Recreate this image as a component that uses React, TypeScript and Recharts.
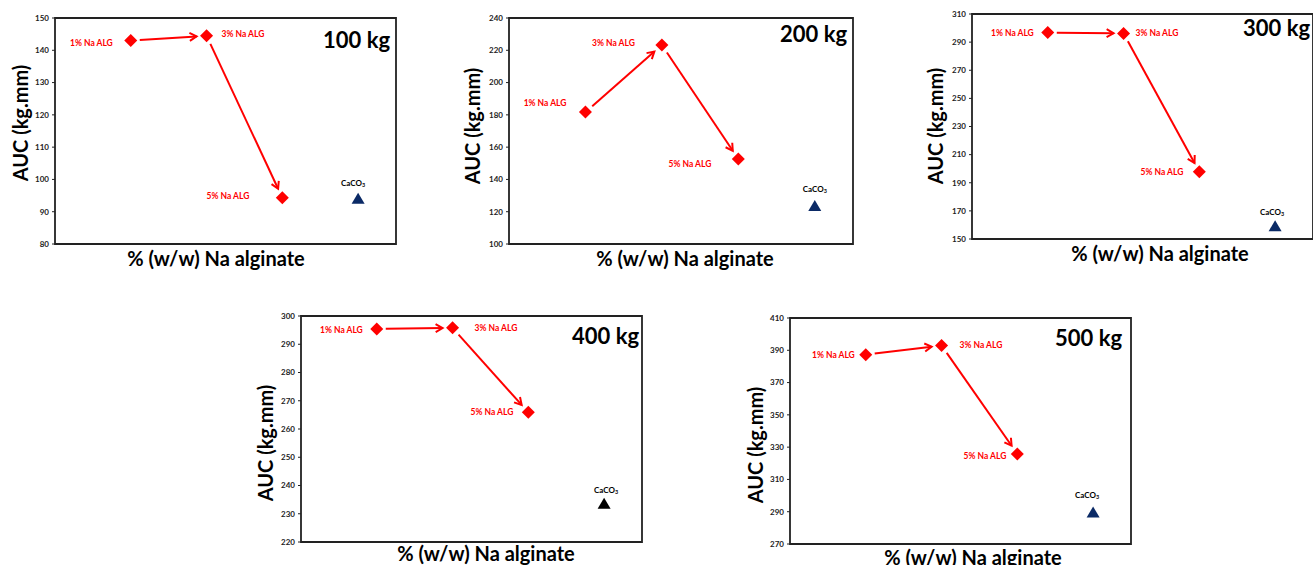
import React from 'react'
import { ScatterChart, Scatter, XAxis, YAxis, ReferenceLine, ReferenceArea } from 'recharts'

// data
const categories = ['1% Na ALG', '3% Na ALG', '5% Na ALG']
const loads = ['100 kg', '200 kg', '300 kg', '400 kg', '500 kg']
const auc100 = [143, 144.5, 94.3]
const auc200 = [181.7, 223.3, 152.6]
const auc300 = [296.8, 296.2, 197.8]
const auc400 = [295.4, 295.8, 265.9]
const auc500 = [387.3, 393, 325.8]
const caco3 = [94, 123.5, 159, 233.5, 289.5]
const yTicks100 = [80, 90, 100, 110, 120, 130, 140, 150]
const yTicks200 = [100, 120, 140, 160, 180, 200, 220, 240]
const yTicks300 = [150, 170, 190, 210, 230, 250, 270, 290, 310]
const yTicks400 = [220, 230, 240, 250, 260, 270, 280, 290, 300]
const yTicks500 = [270, 290, 310, 330, 350, 370, 390, 410]

const series = [auc100, auc200, auc300, auc400, auc500]
const tickSets = [yTicks100, yTicks200, yTicks300, yTicks400, yTicks500]

const RED = '#ff0000'
const FONT = 'Lato, "Open Sans", sans-serif'

// layout of each panel: plot box [left, top, right, bottom], title/axis-title anchors, label offsets
const layout = [
  { box: [55, 18, 396, 244], title: [323, 40], yTitle: [20, 123], xTitle: [216, 258], tri: '#0b2a66',
    lab: [[-18, 2, 'end'], [15, -2, 'start'], [-33, -2, 'end']], caLab: [-5, -16] },
  { box: [509, 18, 853, 244], title: [780, 34], yTitle: [472, 126], xTitle: [685, 258], tri: '#0b2a66',
    lab: [[-19, -9, 'end'], [-27, -2, 'end'], [-27, 5, 'end']], caLab: [0, -17] },
  { box: [972, 14, 1313, 239], title: [1243, 28], yTitle: [935, 126], xTitle: [1160, 253], tri: '#0b2a66',
    lab: [[-14, 0, 'end'], [12, 0, 'start'], [-16, 0, 'end']], caLab: [-3, -14] },
  { box: [301, 316, 642, 542], title: [572, 336], yTitle: [265, 443], xTitle: [486, 553], tri: '#000000',
    lab: [[-14, 1, 'end'], [22, 0, 'start'], [-15, 0, 'end']], caLab: [2, -14] },
  { box: [790, 318, 1131, 544], title: [1055, 338], yTitle: [755, 445], xTitle: [973, 557], tri: '#0b2a66',
    lab: [[-11, 0, 'end'], [18, 0, 'start'], [-11, 2, 'end']], caLab: [-6, -18] },
]

const Arrow = (p: any) => {
  const { x1, y1, x2, y2 } = p
  const dx = x2 - x1, dy = y2 - y1
  const len = Math.sqrt(dx * dx + dy * dy)
  const ux = dx / len, uy = dy / len
  const sx = x1 + ux * 9, sy = y1 + uy * 9
  const ex = x2 - ux * 10, ey = y2 - uy * 10
  const h = 8, a = Math.PI / 6
  const ang = Math.atan2(uy, ux)
  const ax1 = ex - h * Math.cos(ang - a), ay1 = ey - h * Math.sin(ang - a)
  const ax2 = ex - h * Math.cos(ang + a), ay2 = ey - h * Math.sin(ang + a)
  return (
    <g>
      <line x1={sx} y1={sy} x2={ex} y2={ey} stroke={RED} strokeWidth={2} />
      <polyline points={`${ax1},${ay1} ${ex},${ey} ${ax2},${ay2}`} fill="none" stroke={RED} strokeWidth={2} />
    </g>
  )
}

function Panel({ idx }: { idx: number }) {
  const L = layout[idx]
  const [bl, bt, br, bb] = L.box
  const vals = series[idx]
  const ticks = tickSets[idx]
  const yMin = ticks[0], yMax = ticks[ticks.length - 1]
  const alg = vals.map((v, i) => ({ x: i + 1, y: v, name: categories[i] }))
  const ca = [{ x: 4, y: caco3[idx], name: 'CaCO3' }]
  const axisW = 50
  const padT = 10, padR = 10, padB = 10

  const diamond = (p: any) => {
    const { cx, cy, index } = p
    const [ldx, ldy, anchor] = L.lab[index] as [number, number, any]
    const r = 6.5
    return (
      <g>
        <path d={`M${cx},${cy - r} L${cx + r},${cy} L${cx},${cy + r} L${cx - r},${cy} Z`} fill={RED} />
        <text x={cx + ldx} y={cy + ldy} textAnchor={anchor} dominantBaseline="central"
          fill={RED} fontSize={8.5} fontWeight="bold" fontFamily={FONT}>{alg[index].name}</text>
      </g>
    )
  }
  const triangle = (p: any) => {
    const { cx, cy } = p
    return (
      <g>
        <path d={`M${cx},${cy - 6} L${cx + 6.5},${cy + 5} L${cx - 6.5},${cy + 5} Z`} fill={L.tri} />
        <text x={cx + L.caLab[0]} y={cy + L.caLab[1]} textAnchor="middle" dominantBaseline="central"
          fill="#000" fontSize={8} fontWeight="bold" fontFamily={FONT}>
          CaCO<tspan fontSize={5.5} dy={2}>3</tspan>
        </text>
      </g>
    )
  }

  return (
    <>
      <div style={{ position: 'absolute', left: bl - axisW, top: bt - padT }}>
        <ScatterChart width={br - bl + axisW + padR} height={bb - bt + padT + padB}
          margin={{ top: padT, right: padR, bottom: padB, left: 0 }}>
          <XAxis type="number" dataKey="x" domain={[0, 4.5]} hide />
          <YAxis type="number" dataKey="y" domain={[yMin, yMax]} ticks={ticks} interval={0} width={axisW}
            axisLine={false} tickSize={3} tickMargin={3} tickLine={{ stroke: '#222' }}
            tick={{ fill: '#222', fontSize: 8, fontWeight: 'bold', fontFamily: FONT }} />
          <ReferenceArea x1={0} x2={4.5} y1={yMin} y2={yMax} fill="none" fillOpacity={0}
            stroke="#222" strokeWidth={1.8} ifOverflow="visible" />
          <ReferenceLine segment={[{ x: alg[0].x, y: alg[0].y }, { x: alg[1].x, y: alg[1].y }]} shape={Arrow} ifOverflow="visible" />
          <ReferenceLine segment={[{ x: alg[1].x, y: alg[1].y }, { x: alg[2].x, y: alg[2].y }]} shape={Arrow} ifOverflow="visible" />
          <Scatter data={alg} shape={diamond} isAnimationActive={false} />
          <Scatter data={ca} shape={triangle} isAnimationActive={false} />
        </ScatterChart>
      </div>
      <div style={{ position: 'absolute', left: L.title[0], top: L.title[1], transform: 'translate(0, -50%)',
        fontFamily: FONT, fontWeight: 'bold', fontSize: 22, whiteSpace: 'nowrap', lineHeight: 1, color: '#000' }}>
        {loads[idx]}
      </div>
      <div style={{ position: 'absolute', left: L.yTitle[0], top: L.yTitle[1], transform: 'translate(-50%, -50%) rotate(-90deg)',
        fontFamily: FONT, fontWeight: 'bold', fontSize: 20, whiteSpace: 'nowrap', lineHeight: 1, color: '#000' }}>
        AUC (kg.mm)
      </div>
      <div style={{ position: 'absolute', left: L.xTitle[0], top: L.xTitle[1], transform: 'translate(-50%, -50%)',
        fontFamily: FONT, fontWeight: 'bold', fontSize: 20, whiteSpace: 'nowrap', lineHeight: 1, color: '#000' }}>
        % (w/w) Na alginate
      </div>
    </>
  )
}

export default function App() {
  return (
    <div style={{ position: 'absolute', left: 0, top: 0, width: 1313, height: 565, overflow: 'hidden', background: '#fff' }}>
      {loads.map((_, i) => <Panel key={i} idx={i} />)}
    </div>
  )
}
